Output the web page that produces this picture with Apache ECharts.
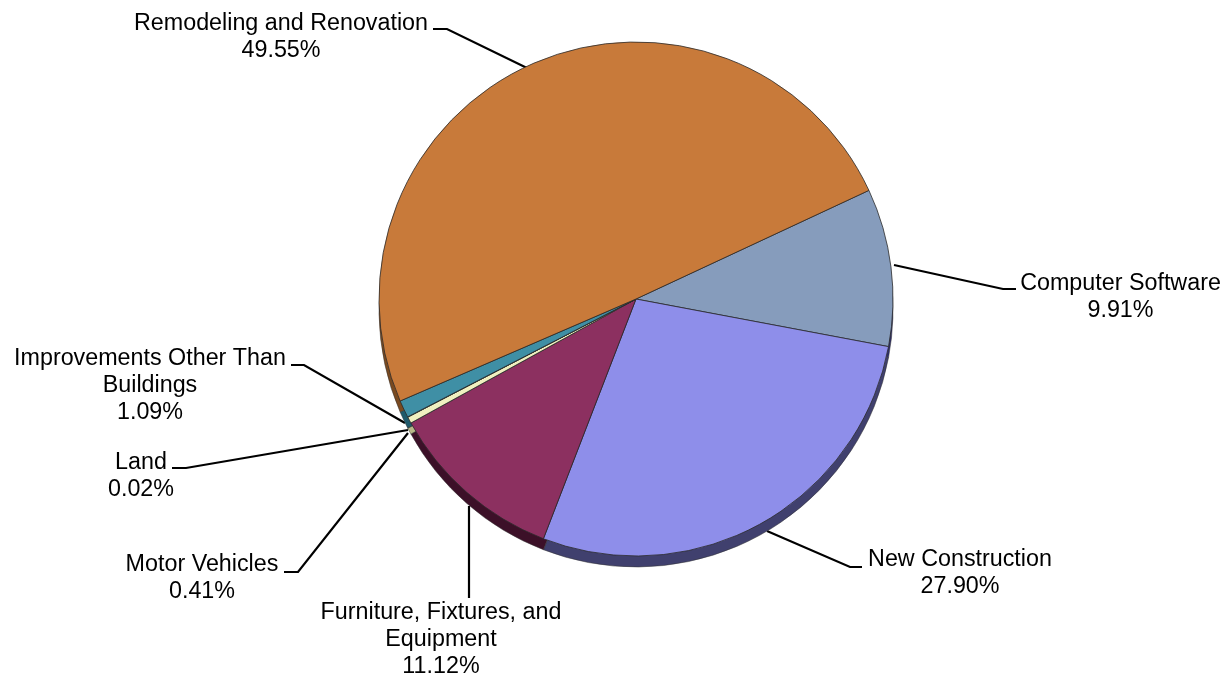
<!DOCTYPE html>
<html>
<head>
<meta charset="utf-8">
<style>html,body{margin:0;padding:0;background:#fff}#chart{width:1228px;height:679px}</style>
<script src="https://cdn.jsdelivr.net/npm/echarts@6/dist/echarts.min.js"></script>
</head>
<body>
<div id="chart"></div>
<script>
// Shares of capital outlay by asset class, clockwise from the upper right.
const categories = ['Computer Software', 'New Construction', 'Furniture, Fixtures, and\nEquipment', 'Motor Vehicles', 'Land', 'Improvements Other Than\nBuildings', 'Remodeling and Renovation'];
const shares = [9.91, 27.90, 11.12, 0.41, 0.02, 1.09, 49.55];
const faceColors = ['#869CBC', '#8E8EEA', '#8C3060', '#F0F0C0', '#E8E8B8', '#3F8FA5', '#C87A3A'];
const sideColors = ['#2E2E6A', '#40406E', '#3C1028', '#B8B888', '#B8B888', '#1F5A6C', '#7A4A20'];

// Label anchor (text centre x, text top y) and leader polyline for each slice.
const labelPlacement = [
  { x: 1120.5, y: 270, line: [[894, 265], [1003, 289], [1016, 289]] },
  { x: 960, y: 546, line: [[767, 531], [850, 567], [862, 567]] },
  { x: 441, y: 599, line: [[469, 506], [469, 598], [469, 598]] },
  { x: 202, y: 551, line: [[408, 433], [298, 572], [284, 572]] },
  { x: 141, y: 449, line: [[408, 430], [186, 468], [172, 468]] },
  { x: 150, y: 345, line: [[405, 423], [304, 365], [291, 365]] },
  { x: 281, y: 10, line: [[527, 68], [447, 29], [433, 29]] }
];

const chart = echarts.init(document.getElementById('chart'), null, { renderer: 'canvas' });

const pieCommon = {
  type: 'pie',
  radius: 257,
  startAngle: 25,
  clockwise: true,
  sort: null,
  animation: false,
  silent: true,
  minAngle: 0,
  percentPrecision: 2
};

chart.setOption({
  backgroundColor: '#fff',
  series: [
    {
      // Extruded rim, drawn first and shifted down beneath the face.
      ...pieCommon,
      name: 'rim',
      center: [636, 310],
      label: { show: false },
      labelLine: { show: false },
      itemStyle: { borderColor: '#333', borderWidth: 0.5 },
      data: categories.map((name, i) => ({
        name, value: shares[i], itemStyle: { color: sideColors[i] }
      }))
    },
    {
      ...pieCommon,
      name: 'face',
      center: [636, 299],
      itemStyle: { borderColor: '#2a2a2a', borderWidth: 0.8 },
      label: {
        show: true,
        formatter: p => p.name + '\n' + shares[p.dataIndex].toFixed(2) + '%',
        fontFamily: 'Liberation Sans',
        fontSize: 23.3,
        lineHeight: 27,
        color: '#000',
        align: 'center'
      },
      labelLine: { show: true, lineStyle: { color: '#000', width: 2.2 } },
      labelLayout: p => {
        const place = labelPlacement[p.dataIndex];
        return {
          x: place.x,
          y: place.y,
          align: 'center',
          verticalAlign: 'top',
          labelLinePoints: place.line
        };
      },
      data: categories.map((name, i) => ({
        name, value: shares[i], itemStyle: { color: faceColors[i] }
      }))
    }
  ]
});
</script>
</body>
</html>
